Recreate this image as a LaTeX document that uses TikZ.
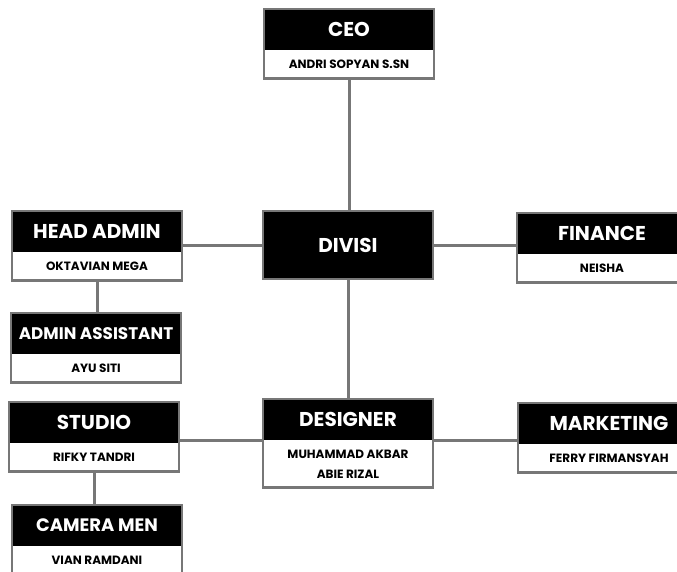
\documentclass[tikz,border=0pt]{standalone}
\usepackage{fontspec}
\setmainfont{Poppins}
\usetikzlibrary{positioning,fit}
\definecolor{frame}{HTML}{777777}

\begin{document}
\begin{tikzpicture}[x=1pt,y=-1pt,
	head/.style={fill=black,text=white,font=\bfseries\fontsize{20}{20}\selectfont,minimum width=170pt,minimum height=41pt,inner sep=0pt},
	person/.style={fill=white,font=\bfseries\fontsize{12}{20}\selectfont,minimum width=170pt,minimum height=28pt,inner sep=0pt,align=center},
	box/.style={draw=frame,line width=2.5pt,inner sep=0pt},
	link/.style={draw=frame,line width=3pt}]
	\clip (0,0) rectangle (677,572);
	\fill[white] (0,0) rectangle (677,572);
	% top and middle
	\node[head] (ceo) at (349,29.5) {CEO};
	\node[person, below=0pt of ceo] (ceoN) {ANDRI SOPYAN S.SN};
	\node[box, fit=(ceo)(ceoN)] (ceoF) {};
	\node[head, box, minimum width=170pt, minimum height=68pt] (divisi) at (348,245) {DIVISI};
	% left side
	\node[head] (admin) at (97,231.5) {HEAD ADMIN};
	\node[person, below=0pt of admin] (adminN) {OKTAVIAN MEGA};
	\node[box, fit=(admin)(adminN)] (adminF) {};
	\node[head, font=\bfseries\fontsize{16.8}{17}\selectfont] (asst) at (96,333.5) {ADMIN ASSISTANT};
	\node[person, below=0pt of asst] (asstN) {AYU SITI};
	\node[box, fit=(asst)(asstN)] (asstF) {};
	\node[head] (studio) at (94,422.5) {STUDIO};
	\node[person, below=0pt of studio] (studioN) {RIFKY TANDRI};
	\node[box, fit=(studio)(studioN)] (studioF) {};
	\node[head, font=\bfseries\fontsize{18}{18}\selectfont] (cam) at (97,525.5) {CAMERA MEN};
	\node[person, below=0pt of cam] (camN) {VIAN RAMDANI};
	\node[box, fit=(cam)(camN)] (camF) {};
	% right side
	\node[head] (fin) at (602,233.5) {FINANCE};
	\node[person, below=0pt of fin] (finN) {NEISHA};
	\node[box, fit=(fin)(finN)] (finF) {};
	\node[head] (des) at (348,419.5) {DESIGNER};
	\node[person, below=0pt of des, minimum height=47pt] (desN) {MUHAMMAD AKBAR\\ABIE RIZAL};
	\node[box, fit=(des)(desN)] (desF) {};
	\node[head, minimum width=182pt] (mkt) at (609,423.5) {MARKETING};
	\node[person, below=0pt of mkt, minimum width=182pt] (mktN) {FERRY FIRMANSYAH};
	\node[box, fit=(mkt)(mktN)] (mktF) {};
	% links
	\path[link]
	(ceoF.south) -- (ceoF.south |- divisi.north)
	(divisi.south) -- (desF.north)
	(divisi.west) -- (divisi.west -| adminF.east)
	(divisi.east) -- (divisi.east -| finF.west)
	(adminF.south) -- (adminF.south |- asstF.north)
	(studioF.south) -- (studioF.south |- camF.north)
	(des.south west) -- (des.south west -| studioF.east)
	(des.south east) -- (des.south east -| mktF.west);
\end{tikzpicture}
\end{document}
